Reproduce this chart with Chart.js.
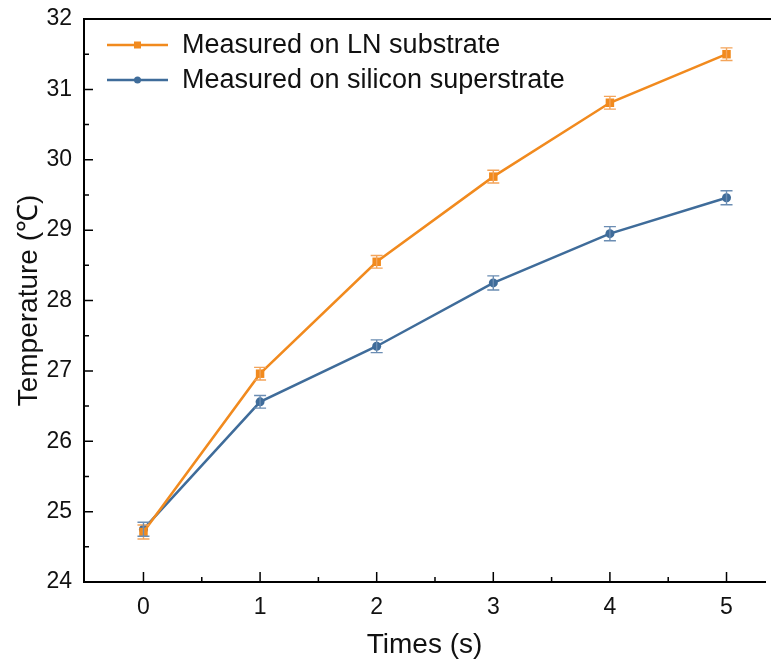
<!DOCTYPE html>
<html>
<head>
<meta charset="utf-8">
<script src="https://cdn.jsdelivr.net/npm/chart.js@4/dist/chart.umd.min.js"></script>
<style>
  body { margin: 0; background: #fff; }
  #wrap { width: 771px; height: 666px; }
</style>
</head>
<body>
<div id="wrap"><canvas id="tempChart"></canvas></div>
<script>
// data
var times = [0, 1, 2, 3, 4, 5];
var lnTemp = [24.71, 26.96, 28.55, 29.76, 30.81, 31.5];
var lnErr = [0.1, 0.09, 0.09, 0.09, 0.09, 0.09];
var siTemp = [24.75, 26.56, 27.35, 28.25, 28.95, 29.46];
var siErr = [0.1, 0.09, 0.09, 0.1, 0.1, 0.1];
var xTicks = [0, 1, 2, 3, 4, 5];
var yTicks = [24, 25, 26, 27, 28, 29, 30, 31, 32];

var orange = '#f18a1e';
var blue = '#3f6c9a';
var orangeErr = '#f3a45a';
var blueErr = '#6b8db3';
var font = "'Liberation Sans', Arial, sans-serif";

function pts(ys) {
    var out = [];
    for (var i in times) out.push({x: times[i], y: ys[i]});
    return out;
}

// error bars, inward ticks, top spine and the legend
var extras = {
    id: 'extras',
    afterDatasetsDraw: function(chart) {
        var ctx = chart.ctx;
        var xs = chart.scales.x, ys = chart.scales.y;
        var area = chart.chartArea;
        ctx.save();

        // error bars
        var errs = [lnErr, siErr];
        var errCols = [orangeErr, blueErr];
        chart.data.datasets.forEach(function(ds, d) {
            ctx.strokeStyle = errCols[d];
            ctx.lineWidth = 1.4;
            ds.data.forEach(function(p, i) {
                var px = xs.getPixelForValue(p.x);
                var top = ys.getPixelForValue(p.y + errs[d][i]);
                var bot = ys.getPixelForValue(p.y - errs[d][i]);
                ctx.beginPath();
                ctx.moveTo(px, top); ctx.lineTo(px, bot);
                ctx.moveTo(px - 6, top); ctx.lineTo(px + 6, top);
                ctx.moveTo(px - 6, bot); ctx.lineTo(px + 6, bot);
                ctx.stroke();
            });
        });

        // top spine
        ctx.strokeStyle = '#000';
        ctx.lineWidth = 2;
        ctx.beginPath();
        ctx.moveTo(area.left - 1, area.top);
        ctx.lineTo(chart.width, area.top);
        ctx.stroke();

        // inward ticks (major + minor)
        ctx.lineWidth = 1.5;
        ctx.beginPath();
        yTicks.forEach(function(v, i) {
            var py = ys.getPixelForValue(v);
            ctx.moveTo(area.left, py); ctx.lineTo(area.left + 9, py);
            if (i < yTicks.length - 1) {
                var pm = ys.getPixelForValue(v + 0.5);
                ctx.moveTo(area.left, pm); ctx.lineTo(area.left + 5, pm);
            }
        });
        xTicks.forEach(function(v, i) {
            var px = xs.getPixelForValue(v);
            ctx.moveTo(px, area.bottom); ctx.lineTo(px, area.bottom - 10);
            var pm = xs.getPixelForValue(v + 0.5);
            if (pm < area.right) {
                ctx.moveTo(pm, area.bottom); ctx.lineTo(pm, area.bottom - 5);
            }
        });
        ctx.stroke();

        // legend
        ctx.font = '27px ' + font;
        ctx.textBaseline = 'middle';
        chart.data.datasets.forEach(function(ds, d) {
            var ly = 45 + d * 35;
            ctx.strokeStyle = ds.borderColor;
            ctx.fillStyle = ds.borderColor;
            ctx.lineWidth = 2.5;
            ctx.beginPath();
            ctx.moveTo(107, ly); ctx.lineTo(168, ly);
            ctx.stroke();
            if (ds.pointStyle === 'rect') {
                ctx.fillRect(137.5 - 3.5, ly - 3.5, 7, 7);
            } else {
                ctx.beginPath();
                ctx.arc(137.5, ly, 3.5, 0, Math.PI * 2);
                ctx.fill();
            }
            ctx.fillStyle = '#111';
            ctx.fillText(ds.label, 182, ly + 1);
        });
        ctx.restore();
    }
};

var ctx = document.getElementById('tempChart');

var lineChart = new Chart(ctx, {
    type: 'line',
    data: {
        datasets: [
            {
                label: 'Measured on LN substrate',
                data: pts(lnTemp),
                borderColor: orange,
                backgroundColor: orange,
                borderWidth: 2.5,
                pointStyle: 'rect',
                pointRadius: 6,
                pointBorderWidth: 0
            },
            {
                label: 'Measured on silicon superstrate',
                data: pts(siTemp),
                borderColor: blue,
                backgroundColor: blue,
                borderWidth: 2.5,
                pointStyle: 'circle',
                pointRadius: 4.5,
                pointBorderWidth: 0
            }
        ]
    },
    options: {
        responsive: true,
        maintainAspectRatio: false,
        animation: false,
        layout: { padding: { top: 19, right: 0, left: 0, bottom: 0 } },
        plugins: {
            legend: { display: false },
            tooltip: { enabled: false }
        },
        scales: {
            x: {
                type: 'linear',
                min: -0.51,
                max: 5.33,
                afterBuildTicks: function(s) { s.ticks = xTicks.map(function(v) { return {value: v}; }); },
                afterFit: function(s) { s.height = 84; s.paddingLeft = 0; s.paddingRight = 0; },
                grid: { drawOnChartArea: false, drawTicks: false },
                border: { color: '#000', width: 2 },
                ticks: { color: '#111', padding: 12, font: { family: font, size: 23 } },
                title: {
                    display: true,
                    text: 'Times (s)',
                    color: '#111',
                    padding: { top: 7 },
                    font: { family: font, size: 28 }
                }
            },
            y: {
                min: 24,
                max: 32,
                afterBuildTicks: function(s) { s.ticks = yTicks.map(function(v) { return {value: v}; }); },
                afterFit: function(s) { s.width = 84; s.paddingTop = 0; s.paddingBottom = 0; },
                grid: { drawOnChartArea: false, drawTicks: false },
                border: { color: '#000', width: 2 },
                ticks: { color: '#111', padding: 12, font: { family: font, size: 23 } },
                title: {
                    display: true,
                    text: 'Temperature (℃)',
                    color: '#111',
                    padding: { top: 12, bottom: 0 },
                    font: { family: font, size: 28 }
                }
            }
        }
    },
    plugins: [extras]
});
</script>
</body>
</html>
